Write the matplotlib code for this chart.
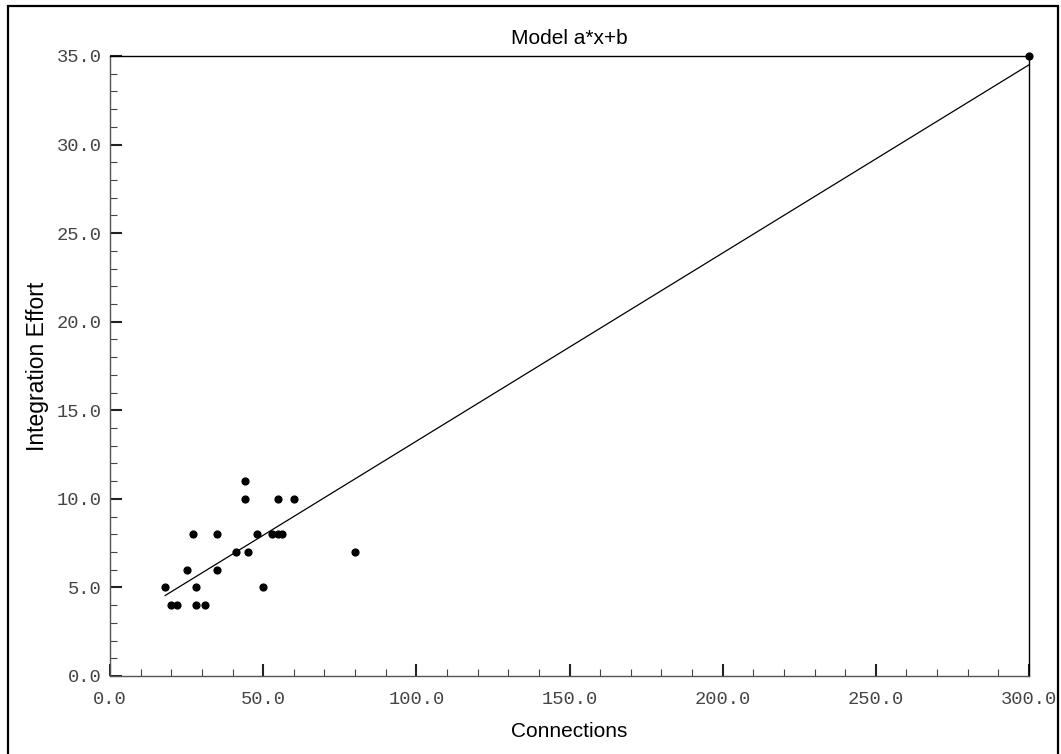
import numpy as np
import matplotlib
matplotlib.use("Agg")
import matplotlib.pyplot as plt
from matplotlib.ticker import MultipleLocator, FormatStrFormatter
from matplotlib.patches import Rectangle

connections = [18, 20, 22, 25, 27, 28, 28, 31, 35, 35, 41, 44, 44, 45, 48, 50,
               53, 55, 55, 56, 60, 80, 300]
effort = [5, 4, 4, 6, 8, 5, 4, 4, 8, 6, 7, 11, 10, 7, 8, 5,
          8, 10, 8, 8, 10, 7, 35]
title = "Model a*x+b"
xlabel = "Connections"
ylabel = "Integration Effort"

fig = plt.figure(figsize=(10.61, 7.54), dpi=100)
ax = fig.add_axes([110/1061, 1-676/754, (1029-110)/1061, (676-56)/754])

# outer frame
fig.patches.append(Rectangle((8/1061, -0.05), (1058-8)/1061, 1-6/754+0.05,
                             transform=fig.transFigure, fill=False,
                             edgecolor='black', linewidth=1.6))

a, b = np.polyfit(connections, effort, 1)
xs = np.array(sorted(set(connections)), dtype=float)
ax.plot(xs, a*xs + b, color='black', linewidth=0.9)
ax.scatter(connections, effort, s=24, color='black', zorder=3, clip_on=False)

ax.set_xlim(0, 300)
ax.set_ylim(0, 35)
ax.xaxis.set_major_locator(MultipleLocator(50))
ax.xaxis.set_minor_locator(MultipleLocator(10))
ax.yaxis.set_major_locator(MultipleLocator(5))
ax.yaxis.set_minor_locator(MultipleLocator(1))
ax.xaxis.set_major_formatter(FormatStrFormatter('%.1f'))
ax.yaxis.set_major_formatter(FormatStrFormatter('%.1f'))

mono = ['Liberation Mono', 'DejaVu Sans Mono']
ax.tick_params(which='major', direction='in', length=8.6, width=1.5, color='#222222',
               labelsize=13.5, labelcolor='#444444')
ax.tick_params(which='minor', direction='in', length=4.8, width=0.8, color='#444444')
ax.tick_params(axis='x', which='major', pad=10.5)
ax.tick_params(axis='y', which='major', pad=6)
for lbl in ax.get_xticklabels() + ax.get_yticklabels():
    lbl.set_family(mono)

for side in ['left', 'bottom']:
    ax.spines[side].set_color('#555555')
    ax.spines[side].set_linewidth(1.0)
for side in ['top', 'right']:
    ax.spines[side].set_color('black')
    ax.spines[side].set_linewidth(1.0)

sans = ['Liberation Sans', 'DejaVu Sans']
ax.set_title(title, fontsize=15, family=sans, pad=9)
ax.set_xlabel(xlabel, fontsize=15, family=sans)
ax.set_ylabel(ylabel, fontsize=16.5, family=sans)
ax.xaxis.set_label_coords(0.5, -0.074)
ax.yaxis.set_label_coords(-0.0663, 0.5)

fig.savefig("out.png", dpi=100)
